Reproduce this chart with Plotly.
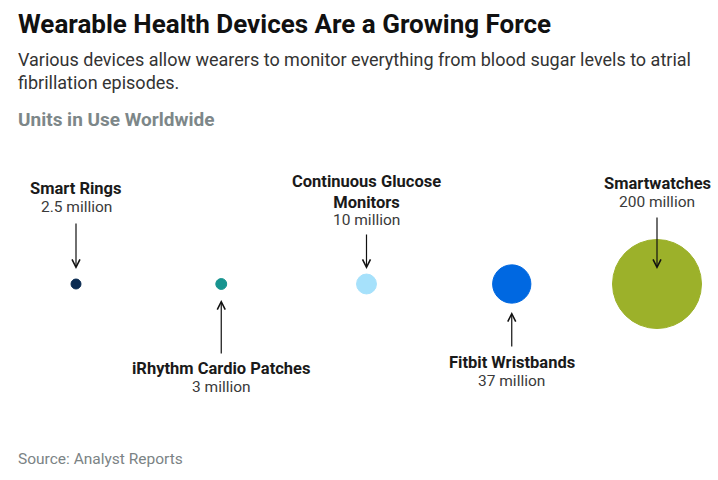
import plotly.graph_objects as go

devices = ["Smart Rings", "iRhythm Cardio Patches", "Continuous Glucose<br>Monitors",
           "Fitbit Wristbands", "Smartwatches"]
units_millions = [2.5, 3, 10, 37, 200]
value_labels = ["2.5 million", "3 million", "10 million", "37 million", "200 million"]
colors = ["#0a2b52", "#17948f", "#a6e1fb", "#0068e1", "#9cb12a"]

W, H = 718, 480
CY = 284  # pixel row of bubble centres
FONT = "Roboto"

xs = list(range(len(devices)))
max_d = 89
sizeref = 2.0 * max(units_millions) / (max_d ** 2)

fig = go.Figure()
fig.add_trace(go.Scatter(
    x=xs, y=[0] * len(xs), mode="markers",
    marker=dict(size=units_millions, sizemode="area", sizeref=sizeref,
                color=colors, line=dict(width=1, color=colors), opacity=1),
    cliponaxis=False, hoverinfo="skip", showlegend=False,
))

# arrow tail offsets (px) and standoffs
arrow_ay = [-62, 71, -51, 64, -68]
arrow_standoff = [15, 16, 15, 28, 15]
# pixel rows (from top) of the name block centre and the value line centre
name_center_px = [188, 368, 191.5, 362, 183]
value_center_px = [207, 387, 219.5, 381, 202]

for i in xs:
    fig.add_annotation(x=i, y=0, xref="x", yref="y", ax=0, ay=arrow_ay[i],
                       axref="pixel", ayref="pixel", text="", showarrow=True,
                       arrowhead=5, arrowsize=1.3, arrowwidth=1.2, arrowcolor="#111111",
                       standoff=arrow_standoff[i])
    fig.add_annotation(x=i, y=CY - name_center_px[i], xref="x", yref="y",
                       text=f"<b>{devices[i]}</b>",
                       showarrow=False, xanchor="center", yanchor="middle", align="center",
                       font=dict(family=FONT, size=16.5, color="#1a1a1a"))
    fig.add_annotation(x=i, y=CY - value_center_px[i], xref="x", yref="y",
                       text=value_labels[i],
                       showarrow=False, xanchor="center", yanchor="middle", align="center",
                       font=dict(family=FONT, size=15.5, color="#3a3a3a"))

# titles
fig.add_annotation(x=16 / W, y=1 - 24 / H, xref="paper", yref="paper", xanchor="left", yanchor="middle",
                   text="<b>Wearable Health Devices Are a Growing Force</b>", showarrow=False,
                   font=dict(family=FONT, size=26, color="#111111"))
fig.add_annotation(x=16 / W, y=1 - 71 / H, xref="paper", yref="paper", xanchor="left", yanchor="middle",
                   text="Various devices allow wearers to monitor everything from blood sugar levels to atrial<br>fibrillation episodes.",
                   showarrow=False, align="left",
                   font=dict(family=FONT, size=18, color="#333333"))
fig.add_annotation(x=16 / W, y=1 - 119 / H, xref="paper", yref="paper", xanchor="left", yanchor="middle",
                   text="<b>Units in Use Worldwide</b>", showarrow=False,
                   font=dict(family=FONT, size=19, color="#7d8789"))
fig.add_annotation(x=16 / W, y=1 - 459 / H, xref="paper", yref="paper", xanchor="left", yanchor="middle",
                   text="Source: Analyst Reports", showarrow=False,
                   font=dict(family=FONT, size=15.5, color="#7b8385"))

x0_px, step_px = 76, 145.25
fig.update_xaxes(range=[-x0_px / step_px, (W - x0_px) / step_px], visible=False, fixedrange=True)
fig.update_yaxes(range=[-(H - CY), CY], visible=False, fixedrange=True)
fig.update_layout(width=W, height=H, margin=dict(l=0, r=0, t=0, b=0),
                  paper_bgcolor="white", plot_bgcolor="white", font=dict(family=FONT))

fig.write_html("out.html", config={"displayModeBar": False},
               post_script="document.body.style.margin='0';document.body.style.padding='0';")
